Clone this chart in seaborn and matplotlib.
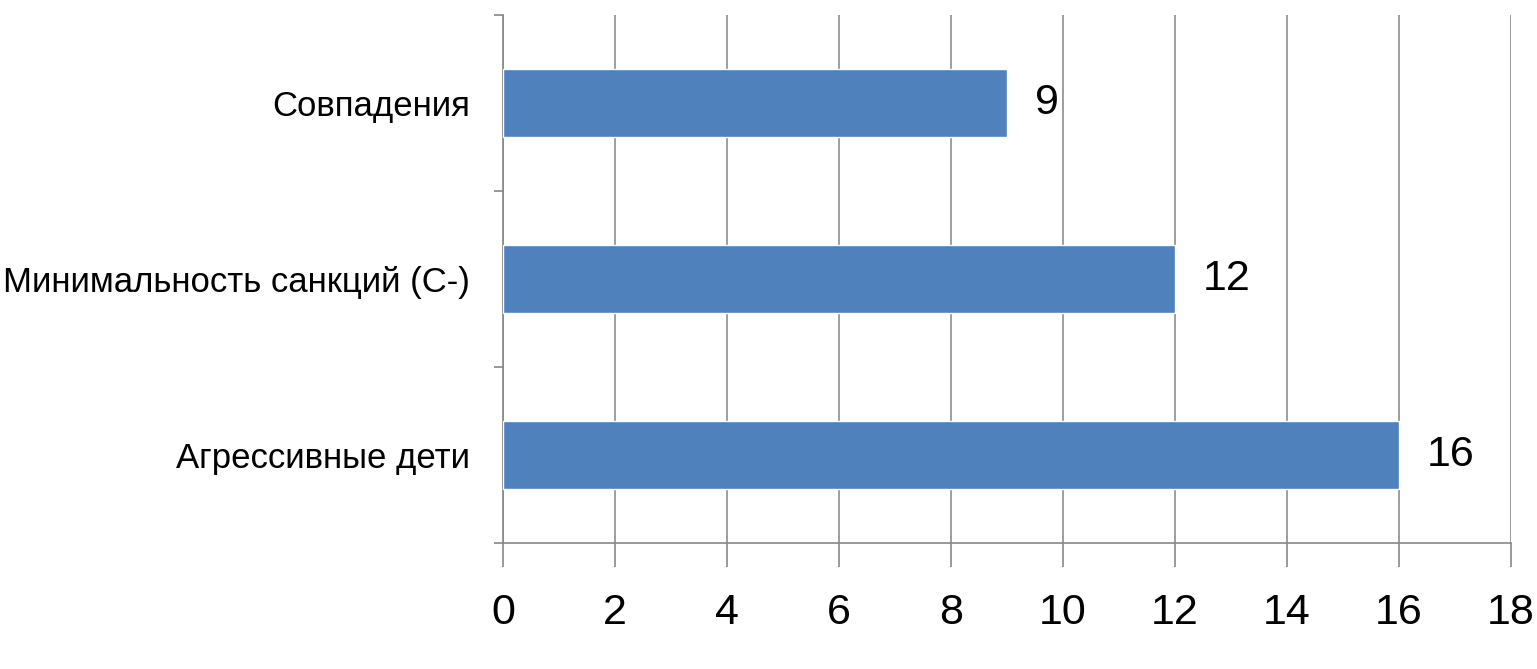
import matplotlib
matplotlib.use('Agg')
import matplotlib.pyplot as plt
from matplotlib.ticker import FixedLocator
import seaborn as sns
import pandas as pd

# categories top to bottom and their values
categories = ['Совпадения', 'Минимальность санкций (С-)', 'Агрессивные дети']
values = [9, 12, 16]
xticks = [0, 2, 4, 6, 8, 10, 12, 14, 16, 18]

sns.set_style('white')
plt.rcParams['font.family'] = ['Liberation Sans', 'DejaVu Sans']
plt.rcParams['text.color'] = 'black'
plt.rcParams['xtick.color'] = '#888888'
plt.rcParams['ytick.color'] = '#888888'
plt.rcParams['xtick.labelcolor'] = 'black'
plt.rcParams['ytick.labelcolor'] = 'black'

df = pd.DataFrame({'cat': categories, 'val': values})

fig = plt.figure(figsize=(15.37, 6.69), dpi=100)
ax = fig.add_axes([0.3273, 0.1883, 0.6558, 0.7893])

sns.barplot(data=df, x='val', y='cat', orient='h', color='#4F81BD',
            saturation=1, width=0.39, ax=ax, zorder=3)

ax.set_xlim(0, 18)
ax.set_ylim(2.5, -0.5)
ax.set_xticks(xticks)
ax.set_xticklabels([str(t) for t in xticks], fontsize=31)
ax.tick_params(axis='x', bottom=True, length=17, width=1.2, pad=19, direction='out')
ax.tick_params(axis='y', which='major', left=True, length=0, labelsize=25, pad=24)
ax.yaxis.set_minor_locator(FixedLocator([-0.5, 0.5, 1.5, 2.5]))
ax.tick_params(axis='y', which='minor', left=True, length=6.5, width=1.2, direction='out')
ax.set_xlabel('')
ax.set_ylabel('')

ax.grid(axis='x', color='#8c8c8c', linewidth=1.2, zorder=0)
ax.set_axisbelow(True)
for s in ['top', 'right']:
    ax.spines[s].set_visible(False)
for s in ['left', 'bottom']:
    ax.spines[s].set_color('#888888')
    ax.spines[s].set_linewidth(1.2)

for c in ax.containers:
    ax.bar_label(c, fmt='%g', padding=20, fontsize=31, color='black')

fig.savefig('out.png', dpi=100)
